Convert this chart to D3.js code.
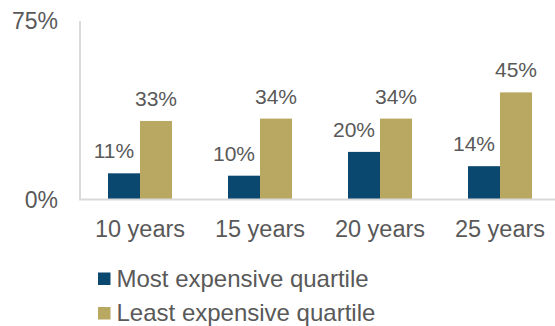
<!DOCTYPE html>
<html>
<head>
<meta charset="utf-8">
<script src="https://cdn.jsdelivr.net/npm/d3@7"></script>
<style>
  html, body { margin: 0; padding: 0; background: #fff; }
  svg { display: block; font-family: "Liberation Sans", Arial, sans-serif; }
</style>
</head>
<body>
<svg id="chart" width="555" height="326"></svg>
<script>
// Share of periods by holding horizon, most vs least expensive quartile
const categories = ["10 years", "15 years", "20 years", "25 years"];
const mostExpensive = [11, 10, 20, 14];
const leastExpensive = [33, 34, 34, 45];
const seriesNames = ["Most expensive quartile", "Least expensive quartile"];
const yTicks = [0, 75];

const colors = ["#0B4870", "#B8A861"];
const textColor = "#595959";
const axisColor = "#D9D9D9";

const svg = d3.select("#chart");
const plot = { left: 80, right: 560, top: 21, bottom: 199.5 };

const x = d3.scaleBand().domain(categories).range([plot.left, plot.right]).padding(0);
const y = d3.scaleLinear().domain([0, 75]).range([plot.bottom, plot.top]);
const barW = 32;

const series = [mostExpensive, leastExpensive];

// bars
series.forEach((vals, si) => {
  svg.append("g").selectAll("rect")
    .data(vals)
    .join("rect")
    .attr("x", (d, i) => x(categories[i]) + x.bandwidth() / 2 + (si === 0 ? -barW : 0))
    .attr("y", d => y(d))
    .attr("width", barW)
    .attr("height", d => y(0) - y(d))
    .attr("fill", colors[si]);
});

// value labels
series.forEach((vals, si) => {
  svg.append("g").selectAll("text")
    .data(vals)
    .join("text")
    .attr("x", (d, i) => x(categories[i]) + x.bandwidth() / 2 + (si === 0 ? -barW / 2 - 10 : barW / 2))
    .attr("y", d => y(d) - 15)
    .attr("text-anchor", "middle")
    .attr("font-size", 21)
    .attr("fill", textColor)
    .text(d => d + "%");
});

// y axis line and baseline
svg.append("line")
  .attr("x1", plot.left).attr("x2", plot.left)
  .attr("y1", y(75)).attr("y2", y(0))
  .attr("stroke", axisColor).attr("stroke-width", 2);
svg.append("line")
  .attr("x1", plot.left - 1).attr("x2", 555)
  .attr("y1", y(0)).attr("y2", y(0))
  .attr("stroke", axisColor).attr("stroke-width", 2);

// y tick labels
svg.append("g").selectAll("text")
  .data(yTicks)
  .join("text")
  .attr("x", 58)
  .attr("y", d => y(d) + 8)
  .attr("text-anchor", "end")
  .attr("font-size", 23)
  .attr("fill", textColor)
  .text(d => d + "%");

// category labels
svg.append("g").selectAll("text")
  .data(categories)
  .join("text")
  .attr("x", d => x(d) + x.bandwidth() / 2)
  .attr("y", 236.5)
  .attr("text-anchor", "middle")
  .attr("font-size", 23.5)
  .attr("fill", textColor)
  .text(d => d);

// legend
const legend = svg.append("g").selectAll("g")
  .data(seriesNames)
  .join("g")
  .attr("transform", (d, i) => `translate(98, ${286.5 + i * 34.5})`);
legend.append("rect")
  .attr("x", 0).attr("y", -14)
  .attr("width", 12.5).attr("height", 12.5)
  .attr("fill", (d, i) => colors[i]);
legend.append("text")
  .attr("x", 18.5).attr("y", 0)
  .attr("font-size", 24)
  .attr("fill", textColor)
  .text(d => d);
</script>
</body>
</html>
